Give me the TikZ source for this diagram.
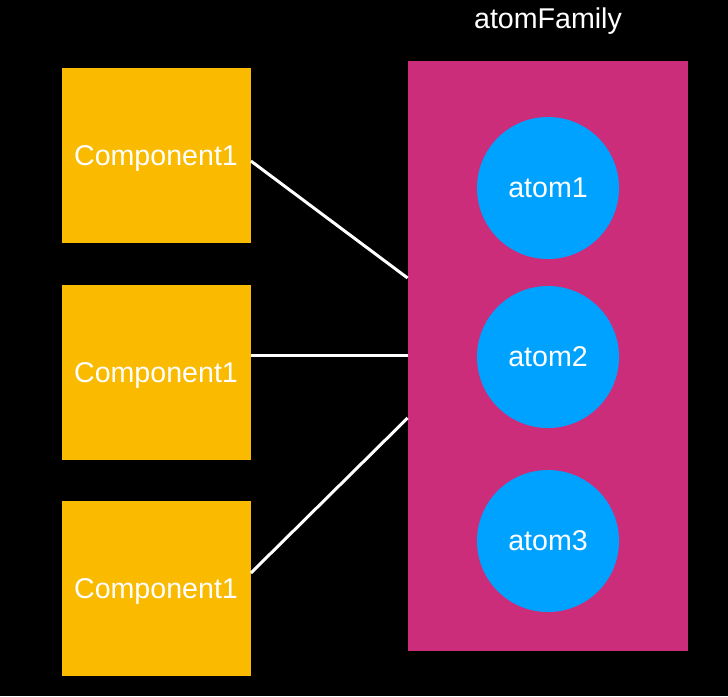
\documentclass[tikz,border=0pt]{standalone}
\usepackage{fontspec}
\setmainfont{Liberation Sans}
\usepackage{xcolor}
\usetikzlibrary{positioning}

\definecolor{compyellow}{RGB}{249,186,0}
\definecolor{familypink}{RGB}{204,45,122}
\definecolor{atomblue}{RGB}{0,162,255}

\begin{document}
\begin{tikzpicture}[x=0.5pt,y=-0.5pt,
                    every node/.style={text=white,text depth=0pt,font=\fontsize{14.3}{17}\selectfont},
                    comp node/.style={rectangle,fill=compyellow,minimum width=94.5pt,
                    minimum height=87.5pt,inner sep=0pt},
                    atom node/.style={circle,fill=atomblue,minimum size=71pt,inner sep=0pt},
                    link/.style={draw=white,line width=1.5pt}]

\fill[black] (0,0) rectangle (728,696);
\useasboundingbox (0,0) rectangle (728,696);

\node[rectangle,fill=familypink,minimum width=140pt,minimum height=295pt,inner sep=0pt]
    (family) at (548,356) {};
\node[above=21pt of family.north,anchor=center] (title) {atomFamily};

\node[atom node] (A1) at (548,188) {atom1};
\node[atom node] (A2) at (548,357) {atom2};
\node[atom node] (A3) at (548,541) {atom3};

\node[comp node] (C1) at (156,155.5) {Component1};
\node[comp node] (C2) at (156,372.5) {Component1};
\node[comp node] (C3) at (156,588.5) {Component1};

\draw[link] ([yshift=-2.75pt]C1.east) -- ([yshift=39pt]family.west);
\draw[link] ([yshift=8.75pt]C2.east) -- ([yshift=0.5pt]family.west);
\draw[link] ([yshift=7.75pt]C3.east) -- ([yshift=-31pt]family.west);

\end{tikzpicture}
\end{document}
